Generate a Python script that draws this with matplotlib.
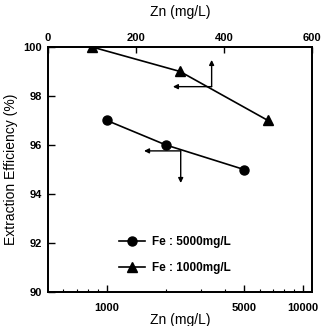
import matplotlib
matplotlib.use("Agg")
import matplotlib.pyplot as plt
from matplotlib.ticker import FixedLocator, NullFormatter

plt.rcParams['font.family'] = ['Liberation Sans', 'DejaVu Sans']

# Fe 5000 mg/L series (bottom log axis)
zn_hi = [1000, 2000, 5000]
eff_hi = [97.0, 96.0, 95.0]

# Fe 1000 mg/L series (top linear axis)
zn_lo = [100, 300, 500]
eff_lo = [100.0, 99.0, 97.0]

bottom_ticks = [1000, 5000, 10000]
bottom_minor = [600, 700, 800, 900, 2000, 3000, 4000, 6000, 7000, 8000, 9000]
top_ticks = [0, 200, 400, 600]
y_ticks = [90, 92, 94, 96, 98, 100]

fig = plt.figure(figsize=(3.26, 3.26), dpi=100)
ax = fig.add_axes([0.147, 0.104, 0.81, 0.752])

ax.set_xscale('log')
ax.set_xlim(500, 11100)
ax.set_ylim(90, 100)
l1, = ax.plot(zn_hi, eff_hi, color='black', lw=1.2, marker='o', ms=6.5,
              label='Fe : 5000mg/L')

ax.xaxis.set_major_locator(FixedLocator(bottom_ticks))
ax.xaxis.set_minor_locator(FixedLocator(bottom_minor))
ax.xaxis.set_minor_formatter(NullFormatter())
ax.set_xticklabels([str(t) for t in bottom_ticks])
ax.set_yticks(y_ticks)
ax.tick_params(axis='both', which='major', direction='in', length=5, width=1,
               labelsize=8, pad=4)
ax.tick_params(axis='x', which='major', pad=8)
ax.tick_params(axis='x', which='minor', direction='in', length=2.5, width=0.8)
for lab in ax.get_xticklabels() + ax.get_yticklabels():
    lab.set_fontweight('bold')
ax.set_xlabel('Zn (mg/L)', fontsize=10, labelpad=0)
ax.set_ylabel('Extraction Efficiency (%)', fontsize=10, labelpad=4)

ax2 = ax.twiny()
ax2.set_xlim(0, 600)
l2, = ax2.plot(zn_lo, eff_lo, color='black', lw=1.2, marker='^', ms=7,
               label='Fe : 1000mg/L')
ax2.set_xticks(top_ticks)
ax2.tick_params(axis='x', direction='in', length=4, width=1, labelsize=8, pad=3)
for lab in ax2.get_xticklabels():
    lab.set_fontweight('bold')
ax2.set_xlabel('Zn (mg/L)', fontsize=10, labelpad=12)

for a in (ax, ax2):
    for s in a.spines.values():
        s.set_linewidth(1.3)

# direction arrows
arrow = dict(arrowstyle='-|>', color='black', lw=1, mutation_scale=7,
             shrinkA=0, shrinkB=0)
ax2.annotate('', xy=(372, 99.47), xytext=(372, 98.38), arrowprops=arrow)
ax2.annotate('', xy=(284, 98.38), xytext=(372, 98.38), arrowprops=arrow)
ax.annotate('', xy=(1545, 95.76), xytext=(2377, 95.76), arrowprops=arrow)
ax.annotate('', xy=(2377, 94.45), xytext=(2377, 95.76), arrowprops=arrow)

leg = ax.legend(handles=[l1, l2], loc='lower left', bbox_to_anchor=(0.23, 0.03),
                frameon=False, handlelength=2.2, handletextpad=0.6,
                labelspacing=1.2, prop={'weight': 'bold', 'size': 8.5})

fig.savefig('out.png', dpi=100)
